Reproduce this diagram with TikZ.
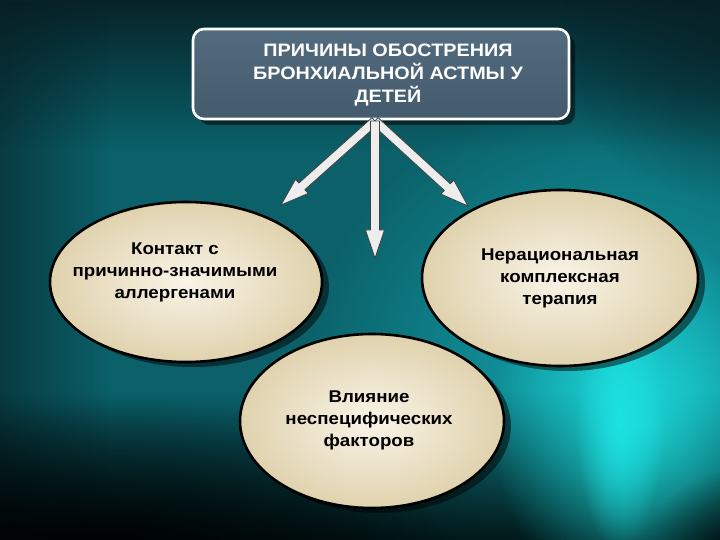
\documentclass[tikz,border=0pt]{standalone}
\usepackage{fontspec}
\setmainfont[FakeStretch=1.1]{Liberation Sans}
\usetikzlibrary{shapes.geometric,calc,fadings,shadows}
\definecolor{bgbase}{HTML}{0B6069}
\definecolor{topdark}{HTML}{061D22}
\definecolor{glowa}{HTML}{14A8B0}
\definecolor{glowb}{HTML}{1EE2E2}
\definecolor{boxtop}{HTML}{536B7E}
\definecolor{boxbot}{HTML}{445B6D}
\definecolor{creamin}{HTML}{F9F4E7}
\definecolor{creamout}{HTML}{E0D2AE}
\tikzfading[name=fadetop, top color=transparent!0, bottom color=transparent!100]
\tikzfading[name=fadebot, top color=transparent!100, bottom color=transparent!0]
\tikzfading[name=fadeleft, left color=transparent!0, right color=transparent!100]
\tikzfading[name=glowfade, inner color=transparent!0, outer color=transparent!100]
\newcommand\blockarr[2]{%
  \path ($(#2)!28pt!(#1)$) coordinate (hb);
  \draw[barrow] ($(#1)!4.5pt!90:(#2)$) -- ($(hb)!4.5pt!90:(#2)$) -- ($(hb)!9.5pt!90:(#2)$) -- (#2)
     -- ($(hb)!9.5pt!-90:(#2)$) -- ($(hb)!4.5pt!-90:(#2)$) -- ($(#1)!4.5pt!-90:(#2)$) -- cycle;}
\begin{document}
\begin{tikzpicture}[x=1pt,y=-1pt,
  barrow/.style={fill=white!93!black, draw=black!75, line width=0.8pt, line join=miter},
  oval/.style={ellipse, draw=black, line width=2.6pt, inner sep=0pt,
     shading=radial, inner color=creamin, outer color=creamout,
     drop shadow={shadow xshift=7pt, shadow yshift=-5pt, opacity=0.5, fill=black}},
  ovaltext/.style={align=center, font=\fontsize{17}{22}\selectfont\bfseries, text=black},
  titlebox/.style={rounded corners=11pt, draw=white, line width=2.6pt,
     top color=boxtop, bottom color=boxbot, minimum width=376pt, minimum height=90pt,
     drop shadow={shadow xshift=6pt, shadow yshift=-6pt, opacity=0.5, fill=black}},
  titletext/.style={align=center, font=\fontsize{18}{23}\selectfont\bfseries, text=white}]
\useasboundingbox (0,0) rectangle (720,540);
% background
\fill[bgbase] (0,0) rectangle (720,540);
\fill[glowa, path fading=glowfade] (620,380) ellipse (320 and 300);
\fill[topdark, path fading=fadetop, opacity=0.9] (0,0) rectangle (720,150);
\fill[topdark, path fading=fadeleft, opacity=0.55] (0,0) rectangle (110,540);
\fill[black, path fading=fadebot, opacity=0.8] (0,390) rectangle (720,540);
\fill[black, path fading=glowfade] (110,570) ellipse (340 and 170);
\fill[glowb, path fading=glowfade, opacity=0.85] (640,420) ellipse (150 and 190);
\fill[glowb, path fading=glowfade] (620,420) ellipse (45 and 130);
\fill[black, path fading=glowfade, opacity=0.8] (740,560) ellipse (100 and 90);
\fill[topdark, path fading=glowfade, opacity=0.6] (720,40) ellipse (160 and 160);
% title
\node[titlebox] (t) at (381,74) {};
\node[titletext] (tt) at (388,75) {ПРИЧИНЫ ОБОСТРЕНИЯ\\БРОНХИАЛЬНОЙ АСТМЫ У\\ДЕТЕЙ};
% arrows
\coordinate (o) at (375,121);
\coordinate (tl) at (281,205);
\coordinate (tm) at (375,258);
\coordinate (tr) at (468,206);
\blockarr{o}{tl}
\blockarr{o}{tr}
\blockarr{o}{tm}
% ovals
\node[oval, minimum width=272pt, minimum height=160pt] (l) at (186,282) {};
\node[oval, minimum width=276pt, minimum height=176pt] (r) at (560,278) {};
\node[oval, minimum width=264pt, minimum height=174pt] (b) at (372,421) {};
\node[ovaltext] (lt) at (175,272) {Контакт с\\причинно-значимыми\\аллергенами};
\node[ovaltext] (rt) at (560,278) {Нерациональная\\комплексная\\терапия};
\node[ovaltext] (bt) at (369,420) {Влияние\\неспецифических\\факторов};
\end{tikzpicture}
\end{document}
